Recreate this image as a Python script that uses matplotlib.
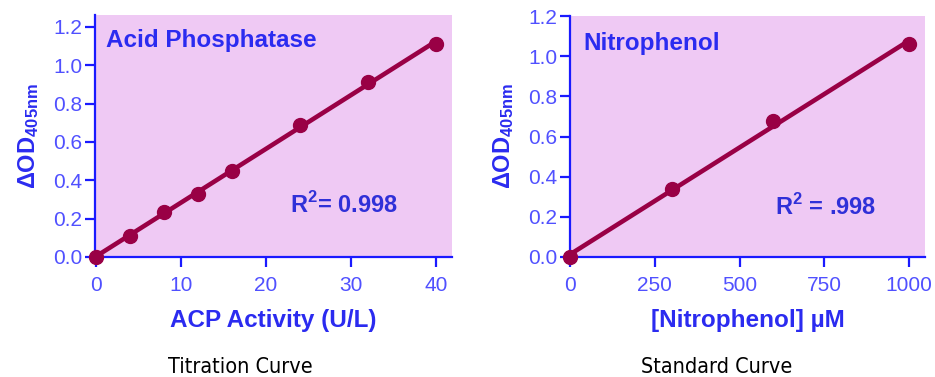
import numpy as np
import matplotlib.pyplot as plt

plt.rcParams['font.family'] = ['Liberation Sans', 'DejaVu Sans']
plt.rcParams['mathtext.fontset'] = 'custom'
plt.rcParams['mathtext.rm'] = 'Liberation Sans'
plt.rcParams['mathtext.bf'] = 'Liberation Sans:bold'

# titration curve
acp_activity = [0, 4, 8, 12, 16, 24, 32, 40]
acp_od = [0.0, 0.11, 0.235, 0.33, 0.45, 0.69, 0.91, 1.11]
# standard curve
nitro_conc = [0, 300, 600, 1000]
nitro_od = [0.0, 0.337, 0.675, 1.062]

blue = "#2b2bf0"
tick_blue = "#5050ff"
line_col = "#990045"
pink = "#efc9f4"

fig = plt.figure(figsize=(9.35, 3.77), dpi=100)
W, H = 935, 377
ax1 = fig.add_axes([95 / W, (H - 257) / H, (452 - 95) / W, (257 - 15) / H])
ax2 = fig.add_axes([570 / W, (H - 257) / H, (925 - 570) / W, (257 - 16) / H])


def style(ax, xs, ys, xt, xlab, name, r2txt, r2pos, name_pos):
    ax.set_facecolor(pink)
    for s in ["top", "right"]:
        ax.spines[s].set_visible(False)
    for s in ["left", "bottom"]:
        ax.spines[s].set_color("#1a1aff")
        ax.spines[s].set_linewidth(1.6)
    ax.tick_params(colors="#1a1aff", width=1.6, length=7, labelsize=15,
                   labelcolor=tick_blue, pad=2)
    ax.tick_params(axis="x", pad=7)
    m, b = np.polyfit(xs, ys, 1)
    fx = np.array([min(xs), max(xs)])
    ax.plot(fx, m * fx + b, color=line_col, lw=3.3, clip_on=False, zorder=3)
    ax.plot(xs, ys, "o", color=line_col, ms=10, clip_on=False, zorder=4)
    ax.set_xticks(xt)
    ax.set_yticks([0, 0.2, 0.4, 0.6, 0.8, 1.0, 1.2])
    ax.set_yticklabels(["0.0", "0.2", "0.4", "0.6", "0.8", "1.0", "1.2"])
    ax.set_xlabel(xlab, fontsize=17.5, fontweight="bold", color=blue, labelpad=10)
    ax.set_ylabel(r"$\mathbf{\Delta OD_{405nm}}$", fontsize=17, color=blue, labelpad=9)
    ax.text(name_pos[0], name_pos[1], name, transform=ax.transAxes, fontsize=17.5,
            fontweight="bold", color=blue, va="center", ha="left")
    ax.text(r2pos[0], r2pos[1], r2txt, fontsize=17, fontweight="bold",
            color="#3030d8", va="center", ha="left")


style(ax1, acp_activity, acp_od, [0, 10, 20, 30, 40], "ACP Activity (U/L)",
      "Acid Phosphatase", r"R$^{\mathbf{2}}$= 0.998", (22.8, 0.27), (0.03, 0.895))
ax1.set_xlim(-0.1, 41.9)
ax1.set_ylim(0, 1.262)

style(ax2, nitro_conc, nitro_od, [0, 250, 500, 750, 1000], "[Nitrophenol] \u00b5M",
      "Nitrophenol", r"R$^{\mathbf{2}}$ = .998", (605, 0.25), (0.037, 0.885))
ax2.set_xlim(0, 1047)
ax2.set_ylim(0, 1.2)

fig.text(240 / W, 1 - 373 / H, "Titration Curve", ha="center", va="baseline",
         fontsize=15.5, family="DejaVu Sans", fontstretch="condensed")
fig.text(717 / W, 1 - 373 / H, "Standard Curve", ha="center", va="baseline",
         fontsize=15.5, family="DejaVu Sans", fontstretch="condensed")

fig.savefig("out.png", dpi=100)
